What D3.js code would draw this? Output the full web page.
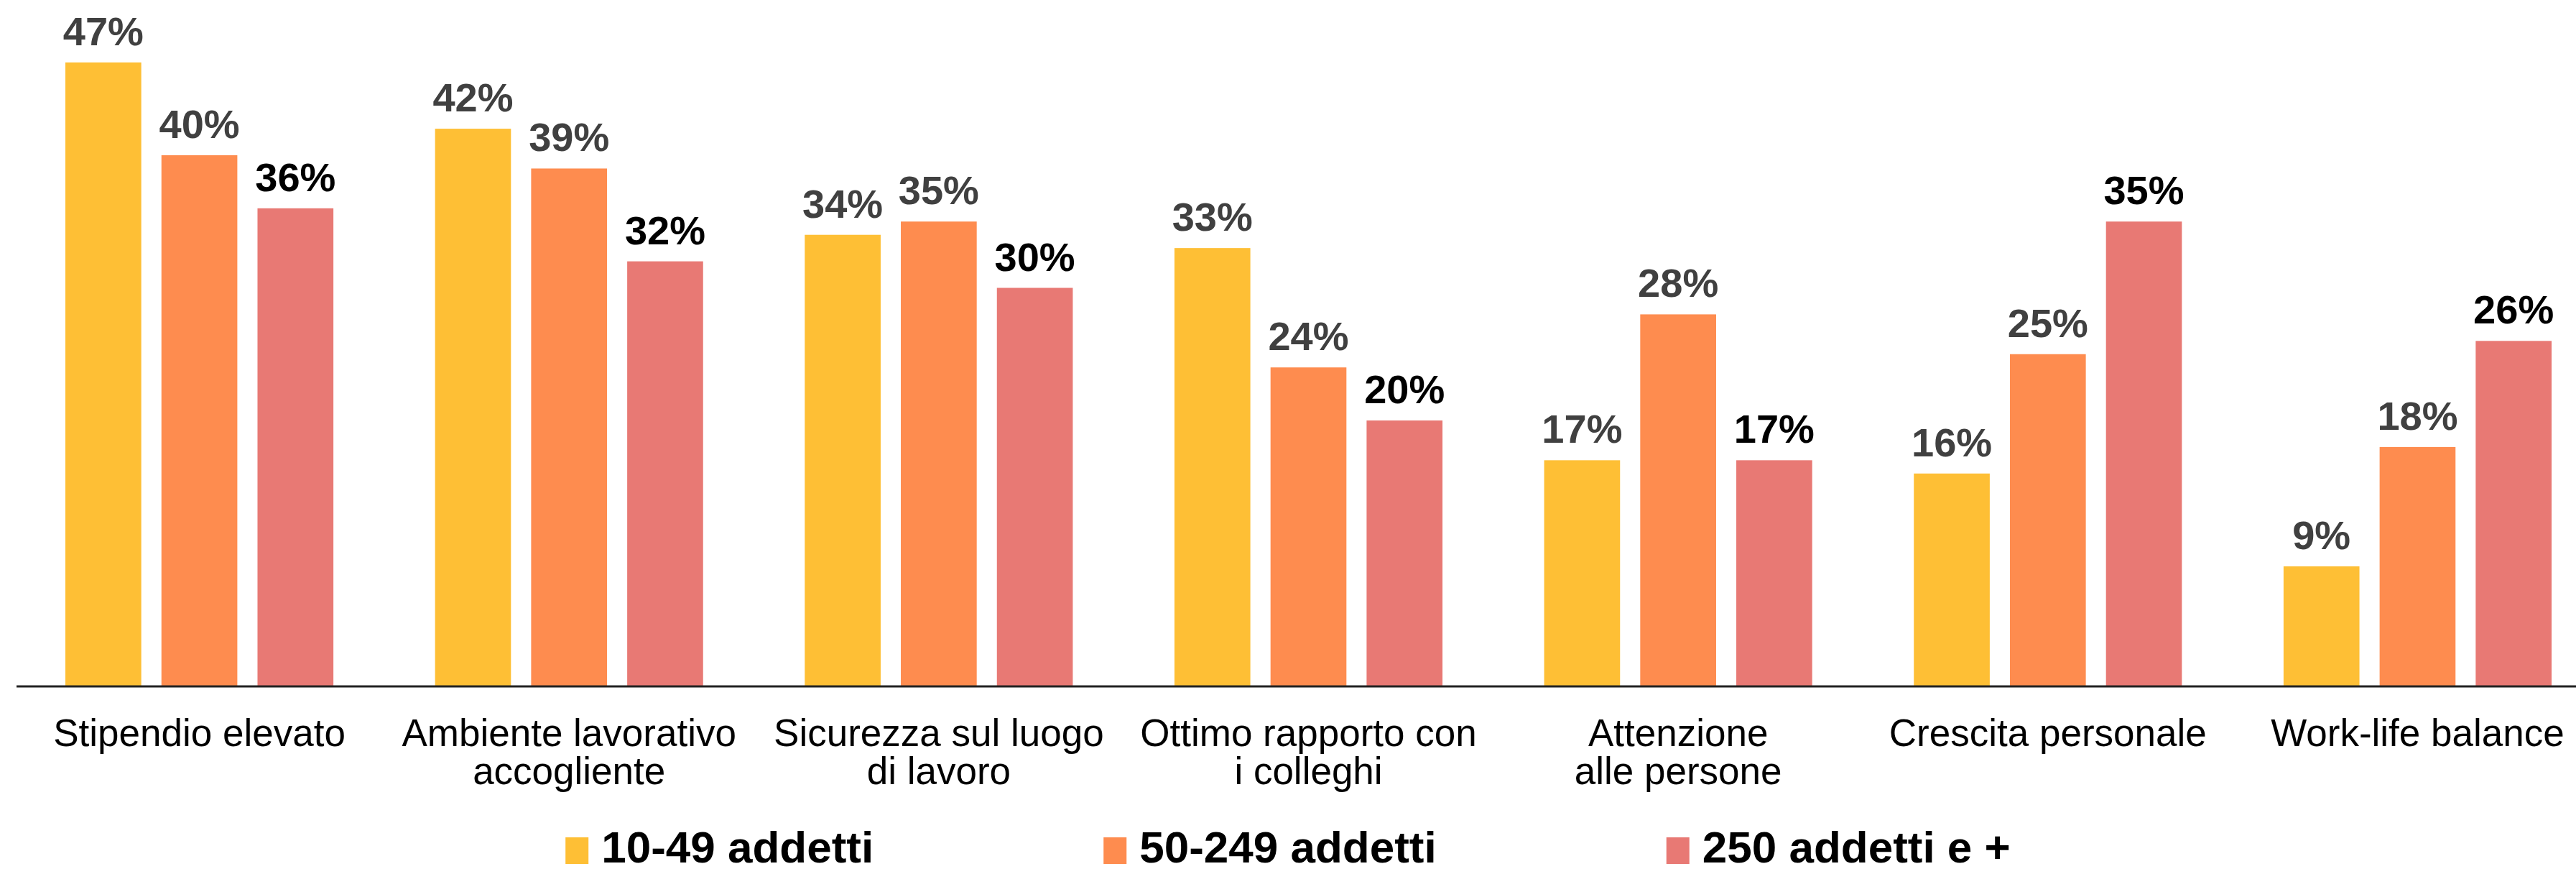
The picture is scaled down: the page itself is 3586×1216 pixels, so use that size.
<!DOCTYPE html>
<html>
<head>
<meta charset="utf-8">
<script src="https://cdn.jsdelivr.net/npm/d3@7"></script>
<style>
  html, body { margin: 0; padding: 0; background: #fff; }
  svg { display: block; }
  .cat { font-family: "Liberation Sans", Arial, sans-serif; font-size: 53px; fill: #000; }
  .val { font-family: "Liberation Sans", Arial, sans-serif; font-size: 56px; font-weight: bold; }
  .leg { font-family: "Liberation Sans", Arial, sans-serif; font-size: 62px; font-weight: bold; fill: #000; }
</style>
</head>
<body>
<svg id="chart"></svg>
<script>
// categories (line breaks as in the original)
const categories = [
    ['Stipendio elevato'],
    ['Ambiente lavorativo', 'accogliente'],
    ['Sicurezza sul luogo', 'di lavoro'],
    ['Ottimo rapporto con', 'i colleghi'],
    ['Attenzione', 'alle persone'],
    ['Crescita personale'],
    ['Work-life balance']
];
const series = ['10-49 addetti', '50-249 addetti', '250 addetti e +'];
const small = [47, 42, 34, 33, 17, 16, 9];
const medium = [40, 39, 35, 24, 28, 25, 18];
const large = [36, 32, 30, 20, 17, 35, 26];
const colors = ['#FEBF35', '#FE8C4F', '#E87974'];
const labelColors = ['#404040', '#404040', '#000000'];

const width = 3586, height = 1216;
const baseline = 954;

const values = [small, medium, large];
const data = categories.map((c, i) => ({
    key: i,
    lines: c,
    vals: series.map((s, j) => ({ series: s, j: j, value: values[j][i] }))
}));

const svg = d3.select('#chart')
    .attr('width', width)
    .attr('height', height);

const x0 = d3.scaleBand()
    .domain(data.map(d => d.key))
    .range([91, 3552])
    .paddingInner(0.275)
    .paddingOuter(0);

const x1 = d3.scaleBand()
    .domain(series)
    .range([0, x0.bandwidth()])
    .paddingInner(0.21);

const y = d3.scaleLinear()
    .domain([0, 50])
    .range([baseline, baseline - 50 * 18.45]);

const color = d3.scaleOrdinal().domain(series).range(colors);

const groups = svg.selectAll('.group')
    .data(data)
    .join('g')
        .attr('class', 'group')
        .attr('transform', d => `translate(${x0(d.key)}, 0)`);

groups.selectAll('rect')
    .data(d => d.vals)
    .join('rect')
        .attr('x', d => x1(d.series))
        .attr('y', d => y(d.value))
        .attr('width', x1.bandwidth())
        .attr('height', d => baseline - y(d.value))
        .attr('fill', d => color(d.series));

groups.selectAll('.val')
    .data(d => d.vals)
    .join('text')
        .attr('class', 'val')
        .attr('x', d => x1(d.series) + x1.bandwidth() / 2)
        .attr('y', d => y(d.value) - 24)
        .attr('text-anchor', 'middle')
        .attr('fill', d => labelColors[d.j])
        .text(d => d.value + '%');

// baseline
svg.append('line')
    .attr('x1', 23)
    .attr('x2', width)
    .attr('y1', baseline + 1)
    .attr('y2', baseline + 1)
    .attr('stroke', '#222')
    .attr('stroke-width', 3);

// category labels
const cats = svg.selectAll('.cat')
    .data(data)
    .join('text')
        .attr('class', 'cat')
        .attr('text-anchor', 'middle')
        .attr('x', d => x0(d.key) + x0.bandwidth() / 2)
        .attr('y', 1038);

cats.selectAll('tspan')
    .data(d => d.lines)
    .join('tspan')
        .attr('x', function() { return d3.select(this.parentNode).attr('x'); })
        .attr('dy', (d, i) => i === 0 ? 0 : 53)
        .text(d => d);

// legend
const legend = svg.append('g');
const items = legend.selectAll('g')
    .data(series)
    .join('g');

items.append('rect')
    .attr('width', 32)
    .attr('height', 37)
    .attr('y', 1165)
    .attr('fill', d => color(d));

items.append('text')
    .attr('class', 'leg')
    .attr('x', 50)
    .attr('y', 1200)
    .text(d => d);

let cursor = 0;
items.each(function() {
    const g = d3.select(this);
    g.attr('transform', `translate(${cursor}, 0)`);
    cursor += 50 + g.select('text').node().getComputedTextLength() + 320;
});
const total = cursor - 320;
legend.attr('transform', `translate(${(width - total) / 2}, 0)`);
</script>
</body>
</html>
